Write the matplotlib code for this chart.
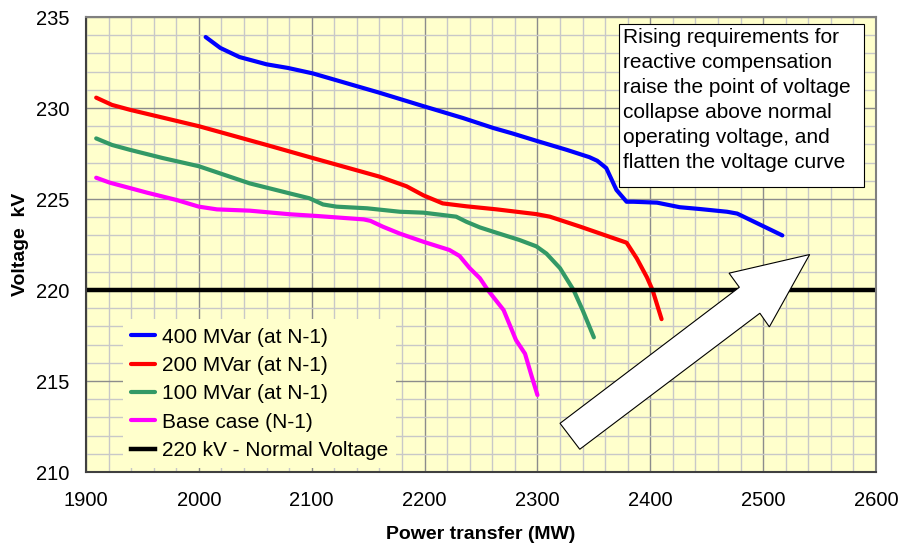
import numpy as np
import matplotlib
matplotlib.use("Agg")
import matplotlib.pyplot as plt
from matplotlib.patches import Polygon, Rectangle
from matplotlib.ticker import MultipleLocator

plt.rcParams['font.family'] = ['Liberation Sans', 'DejaVu Sans']

# 400 MVar (at N-1)
mw_400 = [2006, 2019, 2036, 2060, 2079, 2090, 2101, 2160, 2199, 2234, 2261, 2278, 2299,
          2326, 2346, 2353, 2361, 2370, 2379, 2385, 2406, 2426, 2444, 2468, 2477, 2517]
kv_400 = [233.9, 233.3, 232.8, 232.4, 232.2, 232.05, 231.9, 230.84, 230.1, 229.45, 228.9, 228.6, 228.2,
          227.7, 227.3, 227.1, 226.7, 225.5, 224.85, 224.85, 224.8, 224.55, 224.45, 224.3, 224.2, 223.0]

# 200 MVar (at N-1)
mw_200 = [1909, 1923, 1939, 2000, 2060, 2101, 2160, 2184, 2199, 2216, 2237, 2264, 2299,
          2311, 2338, 2379, 2388, 2397, 2402, 2410]
kv_200 = [230.57, 230.17, 229.9, 229.0, 227.97, 227.25, 226.23, 225.7, 225.2, 224.76, 224.6, 224.43, 224.17,
          224.03, 223.48, 222.6, 221.74, 220.7, 220.0, 218.4]

# 100 MVar (at N-1)
mw_100 = [1909, 1923, 1939, 1968, 2000, 2045, 2081, 2098, 2110, 2122, 2149, 2178, 2199,
          2228, 2237, 2249, 2261, 2284, 2299, 2308, 2320, 2332, 2340, 2350]
kv_100 = [228.33, 227.97, 227.7, 227.25, 226.8, 225.86, 225.3, 225.04, 224.7, 224.58, 224.49, 224.3, 224.25,
          224.03, 223.75, 223.44, 223.2, 222.75, 222.4, 222.0, 221.2, 220.0, 218.9, 217.4]

# Base case (N-1)
mw_base = [1909, 1921, 1954, 1980, 2000, 2016, 2045, 2081, 2104, 2146, 2152, 2163, 2178,
           2199, 2222, 2231, 2240, 2249, 2256, 2270, 2281, 2289, 2295, 2300]
kv_base = [226.17, 225.9, 225.35, 224.95, 224.58, 224.43, 224.36, 224.16, 224.07, 223.88, 223.8, 223.48, 223.1,
           222.65, 222.2, 221.87, 221.2, 220.65, 220.0, 218.9, 217.25, 216.5, 215.24, 214.23]

normal_kv = 220

labels = ['400 MVar (at N-1)', '200 MVar (at N-1)', '100 MVar (at N-1)',
          'Base case (N-1)', '220 kV - Normal Voltage']
colors = ['#0000FF', '#FF0000', '#339966', '#FF00FF', '#000000']

note = ("Rising requirements for\nreactive compensation\nraise the point of voltage\n"
        "collapse above normal\noperating voltage, and\nflatten the voltage curve")

fig = plt.figure(figsize=(8.98, 5.45), dpi=100)
ax = fig.add_axes([0.0958, 0.1339, 0.9797 - 0.0958 - 0.0042, 0.9688 - 0.1339])
ax.set_facecolor('#FFFFCC')

ax.set_xlim(1900, 2600)
ax.set_ylim(210, 235)
ax.xaxis.set_major_locator(MultipleLocator(100))
ax.xaxis.set_minor_locator(MultipleLocator(20))
ax.yaxis.set_major_locator(MultipleLocator(5))
ax.yaxis.set_minor_locator(MultipleLocator(1))
ax.grid(which='minor', color='#C8C8C8', lw=1.0)
ax.grid(which='major', color='#8C8C8C', lw=1.0)
ax.set_axisbelow(True)
ax.tick_params(which='both', length=0, labelsize=14.5)
ax.tick_params(axis='x', pad=14)
ax.tick_params(axis='y', pad=12)
for s in ['top', 'right']:
    ax.spines[s].set_color('#808080')
    ax.spines[s].set_linewidth(1.5)
for s in ['left', 'bottom']:
    ax.spines[s].set_color('#404040')
    ax.spines[s].set_linewidth(1.5)

series = [(mw_400, kv_400), (mw_200, kv_200), (mw_100, kv_100), (mw_base, kv_base)]
handles = []
for (xs, ys), c, lab in zip(series, colors[:4], labels[:4]):
    h, = ax.plot(xs, ys, color=c, lw=3, label=lab, solid_capstyle='round', solid_joinstyle='round')
    handles.append(h)
h = ax.axhline(normal_kv, color=colors[4], lw=3.2, label=labels[4])
handles.append(h)

# block arrow (axes fraction)
arrow_pts = [(0.600, 0.107), (0.827, 0.406), (0.814, 0.437), (0.916, 0.478),
             (0.865, 0.319), (0.853, 0.349), (0.625, 0.050)]
ax.add_patch(Polygon(arrow_pts, closed=True, transform=ax.transAxes,
                     facecolor='white', edgecolor='black', lw=0.8, zorder=5))

# note box
ax.add_patch(Rectangle((0.6747, 0.6264), 0.3101, 0.3582, transform=ax.transAxes,
                       facecolor='white', edgecolor='black', lw=0.8, zorder=6))
ax.text(0.6797, 0.9758, note, transform=ax.transAxes, ha='left', va='top', fontsize=15,
        linespacing=1.4, zorder=7)

leg = ax.legend(handles=handles, loc='lower left', bbox_to_anchor=(0.047, 0.008),
                borderaxespad=0, fontsize=15, frameon=True, facecolor='#FFFFCC',
                edgecolor='none', framealpha=1, fancybox=False, handlelength=1.15,
                handletextpad=0.3, labelspacing=0.45, borderpad=0.4)
leg.set_zorder(7)

ax.set_xlabel('Power transfer (MW)', fontsize=14, fontweight='bold')
ax.xaxis.set_label_coords(0.5, -0.119)
ax.set_ylabel('Voltage  kV', fontsize=14, fontweight='bold', labelpad=5)

fig.savefig('out.png', dpi=100)
